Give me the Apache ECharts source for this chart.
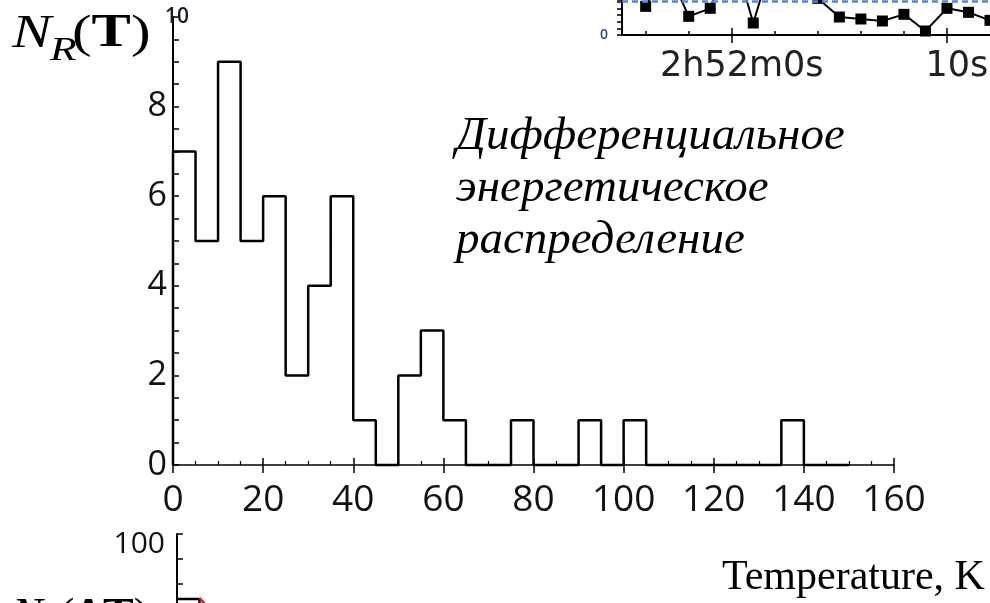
<!DOCTYPE html>
<html>
<head>
<meta charset="utf-8">
<script src="https://cdn.jsdelivr.net/npm/echarts@6/dist/echarts.min.js"></script>
<style>
  html, body { margin: 0; padding: 0; background: #fff; }
  #chart { width: 990px; height: 603px; }
</style>
</head>
<body>
<div id="chart"></div>
<script>
// main histogram, 5 K bins
const binStarts = [0, 5, 10, 15, 20, 25, 30, 35, 40, 45, 50, 55, 60, 65, 70, 75, 80, 85, 90, 95, 100, 105, 110, 115, 120, 125, 130, 135, 140, 145];
const binCounts = [7, 5, 9, 5, 6, 2, 4, 6, 1, 0, 2, 3, 1, 0, 0, 1, 0, 0, 1, 0, 1, 0, 0, 0, 0, 0, 0, 1, 0, 0];
const binEnd = 150;

// inset time series (top right, cut by the frame)
const insetIdx = [0, 1, 2, 3, 4, 5, 6, 7, 8, 9, 10, 11, 12, 13, 14, 15, 16];
const insetVals = [43, 100, 28, 40, 130, 18, 125, 90, 55, 27, 24, 21, 31, 6, 40, 34, 22];
const insetMean = 50;
const insetMinorTicks = [0, 2, 6, 8, 10, 12];
const insetMajorTicks = [4, 14];
const insetTickLabels = ['2h52m0s', '10s'];

// lower panel (cut by the frame)
const lowerBinStarts = [0, 5, 10];
const lowerCounts = [35, 20, 14];
const lowerFitX = [5, 6.2, 8, 11];
const lowerFitY = [36, 30, 24, 18];
const lowerTicks = [50, 75, 100];

const histData = [[0, 0]].concat(binStarts.map((x, i) => [x, binCounts[i]]), [[binEnd, 0]]);
const insetData = insetIdx.map((x, i) => [x, insetVals[i]]);
const lowerData = lowerBinStarts.map((x, i) => [x, lowerCounts[i]]);
const fitData = lowerFitX.map((x, i) => [x, lowerFitY[i]]);

const chart = echarts.init(document.getElementById('chart'));
const black = '#000';
const tickFont = 'Open Sans';
const serif = 'Liberation Serif';

// N_R(...) axis title pieces, placed by hand
function axisTitle(y, inner, scale) {
  return [
    { type: 'text', x: 12, y: y, scaleX: scale,
      style: { text: 'N', fontFamily: serif, fontStyle: 'italic', fontWeight: 'normal', fontSize: 46, lineHeight: 46, fill: black } },
    { type: 'text', x: 12 + 38 * scale / 1.28, y: y + 23, scaleX: scale,
      style: { text: 'R', fontFamily: serif, fontStyle: 'italic', fontWeight: 'normal', fontSize: 34, lineHeight: 34, fill: black } },
    { type: 'text', x: 12 + 60 * scale / 1.28, y: y, scaleX: scale,
      style: {
        text: '{p|(}{b|' + inner + '}{p|)}',
        rich: {
          p: { fontFamily: serif, fontSize: 46, lineHeight: 46, color: black },
          b: { fontFamily: serif, fontWeight: 'bold', fontSize: 46, lineHeight: 46, color: black }
        }
      } }
  ];
}

const option = {
  animation: false,
  grid: [
    { left: 173, top: 17, width: 721, height: 448, outerBoundsMode: 'none' },
    { left: 622, top: 0, width: 368, height: 35, outerBoundsMode: 'none' },
    { left: 177, top: 534, width: 720, height: 69, outerBoundsMode: 'none' }
  ],
  xAxis: [
    {
      gridIndex: 0, type: 'value', min: 0, max: 160, interval: 20,
      axisLine: { lineStyle: { color: black, width: 1.5 } },
      axisTick: { inside: true, length: 7, lineStyle: { color: black, width: 1.5 } },
      minorTick: { show: true, splitNumber: 4, length: 4, lineStyle: { color: black, width: 1.2 } },
      axisLabel: { show: false },
      splitLine: { show: false }
    },
    {
      gridIndex: 0, type: 'value', min: 0, max: 160, interval: 20, position: 'bottom',
      axisLine: { show: false },
      axisTick: { inside: false, length: 8, lineStyle: { color: black, width: 1.5 } },
      axisLabel: { fontFamily: tickFont, fontSize: 37, color: '#111', margin: 17 },
      splitLine: { show: false }
    },
    {
      gridIndex: 1, type: 'value', min: -1.1, max: 16,
      axisLine: { onZero: false, lineStyle: { color: black, width: 2 } },
      axisTick: { inside: true, length: 4, customValues: insetMinorTicks, lineStyle: { color: black, width: 1.5 } },
      axisLabel: { show: false },
      splitLine: { show: false }
    },
    {
      gridIndex: 1, type: 'value', min: -1.1, max: 16, position: 'bottom',
      axisLine: { show: false, onZero: false },
      axisTick: { inside: true, length: 7, customValues: insetMajorTicks, lineStyle: { color: black, width: 1.5 } },
      axisLabel: { show: false },
      splitLine: { show: false }
    },
    {
      gridIndex: 1, type: 'value', min: -1.1, max: 16, position: 'bottom',
      axisLine: { show: false, onZero: false },
      axisTick: { inside: false, length: 8, customValues: insetMajorTicks, lineStyle: { color: black, width: 1.5 } },
      axisLabel: {
        customValues: insetMajorTicks,
        formatter: v => insetTickLabels[insetMajorTicks.indexOf(v)],
        fontFamily: 'DejaVu Sans', fontSize: 35, color: '#222', margin: 14,
        padding: [0, 0, 0, 20]
      },
      splitLine: { show: false }
    },
    {
      gridIndex: 2, type: 'value', min: 0, max: 160, show: false
    }
  ],
  yAxis: [
    {
      gridIndex: 0, type: 'value', min: 0, max: 10, interval: 2,
      axisLine: { show: true, lineStyle: { color: black, width: 2 } },
      axisTick: { show: true, inside: true, length: 6, lineStyle: { color: black, width: 1.5 } },
      minorTick: { show: true, splitNumber: 4, length: 6, lineStyle: { color: black, width: 1.5 } },
      axisLabel: { formatter: v => (v === 10 ? '' : v), fontFamily: tickFont, fontSize: 34, color: '#111', margin: 6 },
      splitLine: { show: false }
    },
    {
      gridIndex: 0, type: 'value', min: 0, max: 10, interval: 2, position: 'left',
      axisLine: { show: false }, axisTick: { show: false },
      axisLabel: {
        formatter: v => (v === 10 ? '10' : ''),
        fontFamily: tickFont, fontSize: 21, fontWeight: 600, color: '#1a1a2a',
        margin: -4, align: 'center', verticalAlign: 'middle', lineHeight: 22,
        padding: [0, 0, 4, 0]
      },
      splitLine: { show: false }
    },
    {
      gridIndex: 1, type: 'value', min: 0, max: 52.5, interval: 10,
      axisLine: { show: true, onZero: false, lineStyle: { color: black, width: 2 } },
      axisTick: { show: true, inside: false, length: 5, lineStyle: { color: black, width: 1.5 } },
      axisLabel: { formatter: v => (v === 0 ? '0' : ''), fontFamily: tickFont, fontSize: 14, fontWeight: 600, color: '#2e4a7d', margin: 14 },
      splitLine: { show: false }
    },
    {
      gridIndex: 2, type: 'value', min: 31, max: 100,
      axisLine: { show: true, onZero: false, lineStyle: { color: black, width: 2 } },
      axisTick: { show: true, inside: true, length: 6, customValues: lowerTicks, lineStyle: { color: black, width: 1.5 } },
      axisLabel: {
        customValues: [100], formatter: v => (v === 100 ? '100' : ''),
        fontFamily: tickFont, fontSize: 30, color: '#111', margin: 12,
        verticalAlign: 'top', lineHeight: 20
      },
      splitLine: { show: false }
    }
  ],
  series: [
    {
      type: 'line', xAxisIndex: 0, yAxisIndex: 0, step: 'end', data: histData,
      symbol: 'none', clip: false,
      lineStyle: { color: black, width: 2.5 }
    },
    {
      type: 'line', xAxisIndex: 2, yAxisIndex: 2, data: insetData,
      symbol: 'rect', symbolSize: 11, clip: false,
      itemStyle: { color: black },
      lineStyle: { color: black, width: 2 },
      markLine: {
        silent: true, symbol: 'none', label: { show: false },
        lineStyle: { color: '#4f86e0', type: [6, 4], width: 2.5 },
        data: [{ yAxis: insetMean }]
      }
    },
    {
      type: 'line', xAxisIndex: 5, yAxisIndex: 3, step: 'end', data: lowerData,
      symbol: 'none', clip: false,
      lineStyle: { color: black, width: 2.5 }
    },
    {
      type: 'line', xAxisIndex: 5, yAxisIndex: 3, data: fitData,
      symbol: 'none', clip: false,
      lineStyle: { color: '#e8141c', width: 2.5 }
    }
  ],
  graphic: axisTitle(11.5, 'T', 1.28).concat(axisTitle(595, 'ΔT', 1.0), [
    {
      type: 'text', x: 456, y: 111,
      style: {
        text: 'Дифференциальное\nэнергетическое\nраспределение',
        fontFamily: serif, fontStyle: 'italic', fontSize: 47, lineHeight: 52, fill: black
      }
    },
    {
      type: 'text', x: 722, y: 556,
      style: { text: 'Temperature, K', fontFamily: serif, fontSize: 42, lineHeight: 44, fill: black }
    }
  ])
};

chart.setOption(option);
</script>
</body>
</html>
